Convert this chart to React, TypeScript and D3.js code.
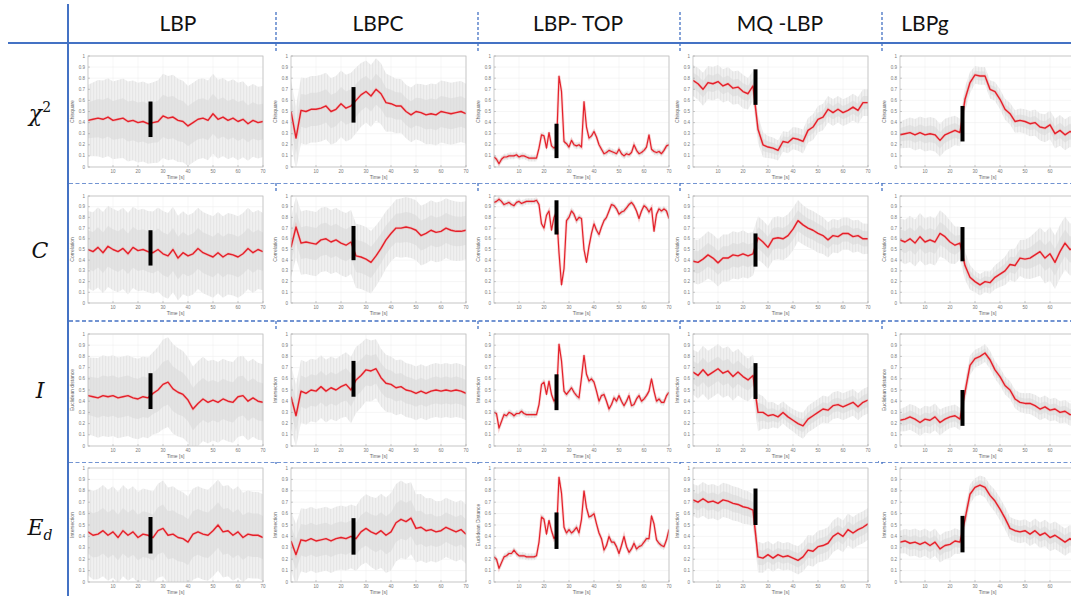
import { useEffect, useRef } from 'react'
import * as d3 from 'd3'

// sample times (s)
const time1 = [0, 1, 2, 3, 4, 5, 6, 7, 8, 9, 10, 11, 12, 13, 14, 15, 16, 17, 18, 19, 20, 21, 22, 23, 24, 25, 26, 27, 28, 29, 30, 31, 32, 33, 34, 35, 36, 37, 38, 39, 40, 41, 42, 43, 44, 45, 46, 47, 48, 49, 50, 51, 52, 53, 54, 55, 56, 57, 58, 59, 60, 61, 62, 63, 64, 65, 66, 67, 68, 69, 70]
const time2 = [0, 2, 4, 6, 8, 10, 12, 14, 16, 18, 20, 22, 24, 26, 28, 30, 32, 34, 36, 38, 40, 42, 44, 46, 48, 50, 52, 54, 56, 58, 60, 62, 64, 66, 68, 70]
const time5 = [0, 5, 10, 15, 20, 25, 30, 35, 40, 45, 50, 55, 60, 65, 70]

const columnLabels = ['LBP', 'LBPC', 'LBP- TOP', 'MQ -LBP', 'LBPg']
const rowSymbols = ['χ', 'C', 'I', 'E']
const rowScripts = ['2', '', '', 'd']
const xTicks = [10, 20, 30, 40, 50, 60, 70]
const yTicks = [0, 0.1, 0.2, 0.3, 0.4, 0.5, 0.6, 0.7, 0.8, 0.9, 1]
const yAxisLabels = [
  ['Chisquare', 'Chisquare', 'Chisquare', 'Chisquare', 'Chisquare'],
  ['Correlation', 'Correlation', 'Correlation', 'Correlation', 'Correlation'],
  ['Euclidean distance', 'Intersection', 'Intersection', 'Intersection', 'Euclidean distance'],
  ['Intersection', 'Intersection', 'Euclidean Distance', 'Intersection', 'Intersection'],
]
const onsetTime = 25

// chi-square row
const chiLbp = [0.42, 0.43, 0.44, 0.43, 0.45, 0.42, 0.43, 0.44, 0.41, 0.42, 0.40, 0.41, 0.39, 0.40, 0.41, 0.46, 0.44, 0.45, 0.42, 0.41, 0.37, 0.40, 0.43, 0.44, 0.42, 0.48, 0.43, 0.45, 0.42, 0.44, 0.41, 0.43, 0.39, 0.42, 0.40, 0.41]
const chiLbpc = [0.50, 0.26, 0.51, 0.50, 0.52, 0.52, 0.53, 0.55, 0.50, 0.52, 0.57, 0.53, 0.55, 0.60, 0.65, 0.68, 0.64, 0.70, 0.66, 0.58, 0.57, 0.55, 0.55, 0.50, 0.47, 0.50, 0.49, 0.47, 0.48, 0.47, 0.50, 0.49, 0.48, 0.49, 0.50, 0.48]
const chiTop = [
  0.09, 0.07, 0.03, 0.07, 0.09, 0.09, 0.10, 0.10, 0.10, 0.11,
  0.09, 0.10, 0.10, 0.09, 0.08, 0.08, 0.08, 0.08, 0.17, 0.29,
  0.28, 0.17, 0.31, 0.19, 0.17, 0.19, 0.82, 0.68, 0.23, 0.21,
  0.18, 0.24, 0.20, 0.19, 0.20, 0.18, 0.59, 0.36, 0.26, 0.28,
  0.32, 0.27, 0.20, 0.16, 0.12, 0.13, 0.15, 0.14, 0.13, 0.12,
  0.16, 0.12, 0.10, 0.12, 0.11, 0.13, 0.20, 0.15, 0.12, 0.13,
  0.15, 0.18, 0.29, 0.16, 0.14, 0.13, 0.14, 0.12, 0.15, 0.19,
  0.20]
const chiMq = [0.78, 0.75, 0.70, 0.76, 0.75, 0.77, 0.73, 0.75, 0.71, 0.72, 0.68, 0.66, 0.73, 0.34, 0.20, 0.18, 0.17, 0.15, 0.23, 0.22, 0.26, 0.25, 0.23, 0.33, 0.36, 0.43, 0.45, 0.52, 0.49, 0.52, 0.49, 0.51, 0.54, 0.51, 0.58, 0.58]
const chiLbpg = [0.29, 0.30, 0.31, 0.29, 0.31, 0.29, 0.30, 0.29, 0.24, 0.29, 0.31, 0.33, 0.31, 0.61, 0.76, 0.83, 0.82, 0.82, 0.70, 0.68, 0.61, 0.52, 0.48, 0.41, 0.42, 0.41, 0.39, 0.40, 0.36, 0.35, 0.38, 0.30, 0.33, 0.29, 0.32, 0.30]

// correlation row
const corLbp = [0.50, 0.48, 0.52, 0.47, 0.53, 0.50, 0.48, 0.51, 0.46, 0.52, 0.49, 0.50, 0.48, 0.47, 0.50, 0.46, 0.44, 0.50, 0.42, 0.47, 0.44, 0.46, 0.51, 0.47, 0.45, 0.43, 0.47, 0.43, 0.46, 0.45, 0.43, 0.46, 0.51, 0.47, 0.50, 0.48]
const corLbpc = [0.52, 0.71, 0.56, 0.57, 0.56, 0.55, 0.59, 0.60, 0.57, 0.59, 0.56, 0.54, 0.57, 0.44, 0.43, 0.41, 0.38, 0.44, 0.51, 0.59, 0.65, 0.70, 0.70, 0.71, 0.70, 0.68, 0.63, 0.65, 0.68, 0.66, 0.67, 0.70, 0.68, 0.67, 0.67, 0.68]
const corTop = [
  0.94, 0.95, 0.97, 0.95, 0.92, 0.93, 0.94, 0.92, 0.91, 0.94,
  0.95, 0.93, 0.94, 0.95, 0.95, 0.95, 0.95, 0.96, 0.92, 0.74,
  0.70, 0.82, 0.86, 0.68, 0.80, 0.85, 0.47, 0.17, 0.32, 0.77,
  0.80, 0.86, 0.83, 0.77, 0.80, 0.79, 0.50, 0.38, 0.53, 0.65,
  0.74, 0.68, 0.64, 0.71, 0.77, 0.80, 0.86, 0.92, 0.91, 0.88,
  0.83, 0.85, 0.86, 0.89, 0.92, 0.94, 0.91, 0.86, 0.79, 0.86,
  0.91, 0.89, 0.85, 0.89, 0.67, 0.83, 0.88, 0.86, 0.88, 0.86,
  0.79]
const corMq = [0.39, 0.38, 0.41, 0.45, 0.42, 0.375, 0.42, 0.42, 0.45, 0.44, 0.46, 0.44, 0.46, 0.61, 0.57, 0.52, 0.60, 0.61, 0.60, 0.63, 0.69, 0.77, 0.73, 0.70, 0.68, 0.65, 0.63, 0.59, 0.63, 0.62, 0.65, 0.65, 0.62, 0.63, 0.60, 0.60]
const corLbpg = [0.59, 0.57, 0.60, 0.56, 0.62, 0.57, 0.59, 0.57, 0.65, 0.62, 0.57, 0.54, 0.56, 0.35, 0.24, 0.20, 0.17, 0.20, 0.19, 0.24, 0.27, 0.30, 0.36, 0.35, 0.42, 0.41, 0.42, 0.45, 0.48, 0.42, 0.46, 0.38, 0.48, 0.56, 0.50, 0.51]

// intersection row
const intLbp = [0.45, 0.44, 0.43, 0.45, 0.44, 0.45, 0.43, 0.44, 0.45, 0.43, 0.42, 0.44, 0.43, 0.47, 0.50, 0.55, 0.57, 0.51, 0.48, 0.46, 0.41, 0.33, 0.38, 0.42, 0.39, 0.41, 0.39, 0.42, 0.40, 0.39, 0.44, 0.45, 0.40, 0.43, 0.40, 0.39]
const intLbpc = [0.44, 0.27, 0.49, 0.47, 0.50, 0.49, 0.53, 0.49, 0.52, 0.50, 0.53, 0.55, 0.50, 0.59, 0.63, 0.68, 0.67, 0.69, 0.61, 0.56, 0.55, 0.52, 0.53, 0.50, 0.49, 0.47, 0.49, 0.47, 0.49, 0.50, 0.49, 0.50, 0.49, 0.50, 0.49, 0.47]
const intTop = [
  0.30, 0.29, 0.16, 0.22, 0.28, 0.27, 0.30, 0.29, 0.27, 0.29,
  0.29, 0.31, 0.29, 0.28, 0.28, 0.28, 0.28, 0.28, 0.37, 0.55,
  0.57, 0.46, 0.58, 0.46, 0.40, 0.43, 0.91, 0.76, 0.49, 0.46,
  0.49, 0.52, 0.48, 0.45, 0.43, 0.61, 0.81, 0.64, 0.58, 0.60,
  0.57, 0.49, 0.40, 0.45, 0.46, 0.40, 0.33, 0.37, 0.43, 0.40,
  0.45, 0.40, 0.36, 0.40, 0.45, 0.36, 0.37, 0.42, 0.45, 0.40,
  0.42, 0.45, 0.49, 0.60, 0.49, 0.40, 0.42, 0.39, 0.39, 0.45,
  0.48]
const intMq = [0.66, 0.63, 0.68, 0.63, 0.66, 0.69, 0.65, 0.67, 0.62, 0.66, 0.62, 0.59, 0.63, 0.30, 0.30, 0.27, 0.28, 0.26, 0.30, 0.26, 0.23, 0.20, 0.18, 0.24, 0.27, 0.30, 0.33, 0.32, 0.36, 0.37, 0.35, 0.37, 0.39, 0.35, 0.39, 0.41]
const intLbpg = [0.23, 0.24, 0.26, 0.24, 0.21, 0.24, 0.23, 0.26, 0.21, 0.24, 0.26, 0.27, 0.24, 0.48, 0.72, 0.78, 0.80, 0.83, 0.77, 0.68, 0.62, 0.54, 0.50, 0.42, 0.39, 0.38, 0.38, 0.36, 0.33, 0.35, 0.32, 0.33, 0.30, 0.31, 0.28, 0.28]

// euclidean distance row
const eucLbp = [0.44, 0.41, 0.42, 0.45, 0.41, 0.44, 0.39, 0.45, 0.41, 0.44, 0.39, 0.42, 0.41, 0.39, 0.45, 0.47, 0.41, 0.42, 0.39, 0.38, 0.35, 0.42, 0.44, 0.42, 0.41, 0.45, 0.50, 0.44, 0.45, 0.41, 0.44, 0.39, 0.42, 0.41, 0.41, 0.39]
const eucLbpc = [0.36, 0.24, 0.37, 0.36, 0.38, 0.36, 0.37, 0.38, 0.36, 0.38, 0.39, 0.38, 0.40, 0.38, 0.44, 0.47, 0.44, 0.42, 0.45, 0.41, 0.44, 0.52, 0.55, 0.53, 0.56, 0.47, 0.48, 0.45, 0.46, 0.44, 0.45, 0.48, 0.46, 0.44, 0.46, 0.42]
const eucTop = [
  0.22, 0.20, 0.12, 0.17, 0.22, 0.23, 0.25, 0.25, 0.28, 0.25,
  0.23, 0.23, 0.23, 0.22, 0.22, 0.22, 0.22, 0.23, 0.35, 0.57,
  0.55, 0.42, 0.54, 0.45, 0.38, 0.42, 0.92, 0.78, 0.48, 0.43,
  0.46, 0.43, 0.45, 0.48, 0.43, 0.55, 0.80, 0.65, 0.57, 0.58,
  0.60, 0.51, 0.43, 0.38, 0.28, 0.32, 0.40, 0.35, 0.35, 0.31,
  0.25, 0.32, 0.40, 0.31, 0.26, 0.29, 0.34, 0.29, 0.31, 0.32,
  0.35, 0.38, 0.38, 0.58, 0.51, 0.37, 0.34, 0.32, 0.31, 0.37,
  0.46]
const eucMq = [0.72, 0.70, 0.73, 0.70, 0.71, 0.69, 0.72, 0.71, 0.69, 0.68, 0.66, 0.65, 0.63, 0.22, 0.21, 0.24, 0.21, 0.24, 0.22, 0.23, 0.21, 0.19, 0.22, 0.28, 0.27, 0.31, 0.32, 0.34, 0.40, 0.43, 0.40, 0.46, 0.43, 0.46, 0.48, 0.51]
const eucLbpg = [0.35, 0.36, 0.34, 0.35, 0.33, 0.35, 0.32, 0.35, 0.29, 0.32, 0.33, 0.36, 0.35, 0.55, 0.77, 0.83, 0.85, 0.83, 0.76, 0.71, 0.64, 0.56, 0.47, 0.45, 0.44, 0.45, 0.42, 0.45, 0.41, 0.43, 0.39, 0.41, 0.38, 0.35, 0.38, 0.35]

// half width of the grey raw-signal cloud, every 5 s
const chiLbpSpread = [0.32, 0.35, 0.35, 0.36, 0.36, 0.36, 0.38, 0.38, 0.36, 0.36, 0.36, 0.35, 0.35, 0.33, 0.32]
const chiLbpcSpread = [0.28, 0.30, 0.30, 0.30, 0.30, 0.30, 0.28, 0.28, 0.25, 0.24, 0.25, 0.27, 0.28, 0.28, 0.27]
const chiTopSpread = [0.03, 0.03, 0.03, 0.03, 0.03, 0.03, 0.03, 0.03, 0.03, 0.03, 0.03, 0.03, 0.03, 0.03, 0.03]
const chiMqSpread = [0.14, 0.15, 0.15, 0.15, 0.15, 0.13, 0.10, 0.09, 0.10, 0.11, 0.12, 0.12, 0.12, 0.12, 0.12]
const chiLbpgSpread = [0.12, 0.14, 0.15, 0.15, 0.14, 0.12, 0.08, 0.08, 0.09, 0.10, 0.11, 0.12, 0.13, 0.14, 0.14]
const corLbpSpread = [0.36, 0.38, 0.38, 0.38, 0.38, 0.38, 0.40, 0.40, 0.38, 0.38, 0.38, 0.38, 0.38, 0.38, 0.36]
const corLbpcSpread = [0.28, 0.30, 0.30, 0.30, 0.30, 0.30, 0.30, 0.28, 0.26, 0.28, 0.28, 0.28, 0.28, 0.28, 0.27]
const corTopSpread = [0.03, 0.03, 0.03, 0.03, 0.03, 0.03, 0.04, 0.03, 0.03, 0.03, 0.03, 0.03, 0.03, 0.03, 0.03]
const corMqSpread = [0.20, 0.22, 0.22, 0.22, 0.22, 0.20, 0.20, 0.20, 0.20, 0.18, 0.18, 0.16, 0.15, 0.15, 0.14]
const corLbpgSpread = [0.20, 0.22, 0.22, 0.22, 0.20, 0.14, 0.10, 0.10, 0.12, 0.15, 0.18, 0.22, 0.25, 0.25, 0.24]
const intLbpSpread = [0.34, 0.36, 0.36, 0.36, 0.36, 0.36, 0.40, 0.40, 0.38, 0.38, 0.36, 0.36, 0.36, 0.35, 0.34]
const intLbpcSpread = [0.28, 0.28, 0.28, 0.28, 0.28, 0.30, 0.28, 0.26, 0.25, 0.24, 0.24, 0.24, 0.24, 0.24, 0.24]
const intTopSpread = [0.03, 0.03, 0.03, 0.03, 0.03, 0.03, 0.03, 0.03, 0.03, 0.03, 0.03, 0.03, 0.03, 0.03, 0.03]
const intMqSpread = [0.20, 0.22, 0.22, 0.22, 0.20, 0.18, 0.12, 0.10, 0.10, 0.12, 0.12, 0.12, 0.12, 0.12, 0.12]
const intLbpgSpread = [0.10, 0.12, 0.12, 0.12, 0.10, 0.10, 0.08, 0.08, 0.08, 0.08, 0.09, 0.10, 0.10, 0.10, 0.10]
const eucLbpSpread = [0.38, 0.40, 0.40, 0.40, 0.40, 0.40, 0.42, 0.42, 0.40, 0.40, 0.40, 0.40, 0.40, 0.38, 0.38]
const eucLbpcSpread = [0.26, 0.28, 0.28, 0.28, 0.28, 0.28, 0.30, 0.32, 0.34, 0.34, 0.30, 0.28, 0.26, 0.26, 0.26]
const eucTopSpread = [0.03, 0.03, 0.03, 0.03, 0.03, 0.03, 0.03, 0.03, 0.03, 0.03, 0.03, 0.03, 0.03, 0.03, 0.03]
const eucMqSpread = [0.14, 0.15, 0.15, 0.15, 0.15, 0.14, 0.12, 0.12, 0.12, 0.13, 0.14, 0.14, 0.14, 0.14, 0.14]
const eucLbpgSpread = [0.10, 0.12, 0.12, 0.12, 0.12, 0.10, 0.08, 0.09, 0.10, 0.10, 0.10, 0.11, 0.12, 0.12, 0.12]

// black onset markers [low, high]
const chiBars = [[0.27, 0.59], [0.40, 0.72], [0.08, 0.39], [0.56, 0.88], [0.23, 0.55]]
const corBars = [[0.35, 0.68], [0.40, 0.72], [0.64, 0.96], [0.34, 0.65], [0.39, 0.71]]
const intBars = [[0.33, 0.65], [0.44, 0.76], [0.32, 0.64], [0.42, 0.74], [0.18, 0.50]]
const eucBars = [[0.25, 0.57], [0.24, 0.56], [0.29, 0.61], [0.50, 0.82], [0.26, 0.58]]

const rowValues = [
  [chiLbp, chiLbpc, chiTop, chiMq, chiLbpg],
  [corLbp, corLbpc, corTop, corMq, corLbpg],
  [intLbp, intLbpc, intTop, intMq, intLbpg],
  [eucLbp, eucLbpc, eucTop, eucMq, eucLbpg],
]
const rowSpreads = [
  [chiLbpSpread, chiLbpcSpread, chiTopSpread, chiMqSpread, chiLbpgSpread],
  [corLbpSpread, corLbpcSpread, corTopSpread, corMqSpread, corLbpgSpread],
  [intLbpSpread, intLbpcSpread, intTopSpread, intMqSpread, intLbpgSpread],
  [eucLbpSpread, eucLbpcSpread, eucTopSpread, eucMqSpread, eucLbpgSpread],
]
const rowBars = [chiBars, corBars, intBars, eucBars]

const W = 1071, H = 596
const blue = '#4472c4'
const frameLeft = [88, 291, 494, 693, 900]
const frameTop = [56, 196, 334, 468]
const frameHeight = [111, 107, 112, 114]
const frameWidth = 175
const headerX = [178, 378, 578, 780, 925]
const rowLabelY = [113, 250, 390, 527]
const rowBounds = [[43, 183], [183, 321], [321, 462], [462, 596]]
const dividerX = [276, 478, 680, 882]

export default function App() {
    const ref = useRef(null)

    useEffect(() => {
        const svg = d3.select(ref.current)
        svg.selectAll('*').remove()

        svg.append('rect').attr('width', W).attr('height', H).attr('fill', '#fff')

        const defs = svg.append('defs')
        // streaky texture for the raw-signal cloud
        const pat = defs.append('pattern')
            .attr('id', 'noise')
            .attr('patternUnits', 'userSpaceOnUse')
            .attr('width', 3)
            .attr('height', 40)
        pat.append('rect').attr('width', 3).attr('height', 40).attr('fill', '#f2f2f2')
        pat.append('line').attr('x1', 0.5).attr('x2', 0.5).attr('y1', 0).attr('y2', 40)
            .attr('stroke', '#dadada').attr('stroke-width', 0.5)
        pat.append('line').attr('x1', 1.9).attr('x2', 1.9).attr('y1', 0).attr('y2', 40)
            .attr('stroke', '#e3e3e3').attr('stroke-width', 0.4)

        // grid structure lines
        const lines = svg.append('g')
        lines.append('line').attr('x1', 68).attr('x2', 68).attr('y1', 4).attr('y2', H)
            .attr('stroke', blue).attr('stroke-width', 2)
        lines.append('line').attr('x1', 8).attr('x2', W).attr('y1', 43).attr('y2', 43)
            .attr('stroke', blue).attr('stroke-width', 2)

        rowBounds.slice(1).forEach(([top]) => {
            lines.append('line').attr('x1', 69).attr('x2', W).attr('y1', top).attr('y2', top)
                .attr('stroke', blue).attr('stroke-width', 1.3).attr('stroke-dasharray', '4 2.5')
        })

        dividerX.forEach((x) => {
            const segs = [[12, 43]]
            rowBounds.forEach(([a, b]) => {
                segs.push([a, a + 28])
                segs.push([b - 30, b])
            })
            segs.forEach(([a, b]) => {
                lines.append('line').attr('x1', x).attr('x2', x).attr('y1', a).attr('y2', b)
                    .attr('stroke', blue).attr('stroke-width', 1.3).attr('stroke-dasharray', '3 2')
            })
        })

        // header labels
        columnLabels.forEach((label, i) => {
            svg.append('text')
                .attr('x', headerX[i])
                .attr('y', 31)
                .attr('text-anchor', 'middle')
                .style('font-family', 'Lato, "Open Sans", sans-serif')
                .style('font-size', '21px')
                .attr('fill', '#111')
                .text(label)
        })

        // row labels
        rowSymbols.forEach((sym, i) => {
            const t = svg.append('text')
                .attr('x', 40)
                .attr('y', rowLabelY[i] + 8)
                .attr('text-anchor', 'middle')
                .style('font-family', '"DejaVu Serif", "Liberation Serif", serif')
                .style('font-style', 'italic')
                .style('font-size', '22px')
                .attr('fill', '#111')
            t.append('tspan').text(sym)
            if (rowScripts[i]) {
                t.append('tspan')
                    .attr('dy', i === 0 ? -9 : 5)
                    .style('font-size', '14px')
                    .style('font-style', i === 0 ? 'normal' : 'italic')
                    .text(rowScripts[i])
            }
        })

        // panels
        rowValues.forEach((cols, r) => {
            cols.forEach((values, c) => {
                const time = c === 2 ? time1 : time2
                const x0 = frameLeft[c], y0 = frameTop[r], w = frameWidth, h = frameHeight[r]
                const xScale = d3.scaleLinear().domain([0, 70]).range([x0, x0 + w])
                const yScale = d3.scaleLinear().domain([0, 1]).range([y0 + h, y0])
                const spread = d3.scaleLinear().domain(time5).range(rowSpreads[r][c])
                const pts = time.map((t, k) => ({ t, v: values[k] }))
                const visibleX = xTicks.filter((d) => xScale(d) < W - 4)

                const g = svg.append('g')
                g.append('rect').attr('x', x0 - 19).attr('y', y0 - 4).attr('width', w + 29).attr('height', h + 20).attr('fill', '#fff')

                // grid
                g.selectAll('.gx').data(xTicks).join('line')
                    .attr('x1', (d) => xScale(d)).attr('x2', (d) => xScale(d))
                    .attr('y1', y0).attr('y2', y0 + h)
                    .attr('stroke', '#ededed').attr('stroke-width', 0.5)
                g.selectAll('.gy').data(yTicks).join('line')
                    .attr('x1', x0).attr('x2', x0 + w)
                    .attr('y1', (d) => yScale(d)).attr('y2', (d) => yScale(d))
                    .attr('stroke', '#ededed').attr('stroke-width', 0.5)

                const clipId = `clip-${r}-${c}`
                defs.append('clipPath').attr('id', clipId).append('rect')
                    .attr('x', x0).attr('y', y0).attr('width', w).attr('height', h)
                const plot = g.append('g').attr('clip-path', `url(#${clipId})`)

                const outer = d3.area()
                    .x((d) => xScale(d.t))
                    .y0((d) => yScale(d.v - spread(d.t)))
                    .y1((d) => yScale(d.v + spread(d.t)))
                const inner = d3.area()
                    .x((d) => xScale(d.t))
                    .y0((d) => yScale(d.v - spread(d.t) * 0.5))
                    .y1((d) => yScale(d.v + spread(d.t) * 0.5))
                plot.append('path').attr('d', outer(pts)).attr('fill', 'url(#noise)')
                plot.append('path').attr('d', inner(pts)).attr('fill', '#d8d8d8').attr('opacity', 0.55)

                const line = d3.line().x((d) => xScale(d.t)).y((d) => yScale(d.v))
                plot.append('path').attr('d', line(pts))
                    .attr('fill', 'none').attr('stroke', '#f4a0a0').attr('stroke-width', 2.8).attr('opacity', 0.45)
                plot.append('path').attr('d', line(pts))
                    .attr('fill', 'none').attr('stroke', '#e4202a').attr('stroke-width', c === 2 ? 1.2 : 1.4)
                    .attr('stroke-linejoin', 'round')

                // frame and ticks
                g.append('rect').attr('x', x0).attr('y', y0).attr('width', w).attr('height', h)
                    .attr('fill', 'none').attr('stroke', '#bdbdbd').attr('stroke-width', 0.8)
                g.selectAll('.tx').data(xTicks).join('line')
                    .attr('x1', (d) => xScale(d)).attr('x2', (d) => xScale(d))
                    .attr('y1', y0 + h).attr('y2', y0 + h - 2)
                    .attr('stroke', '#9a9a9a').attr('stroke-width', 0.5)
                g.selectAll('.ty').data(yTicks).join('line')
                    .attr('x1', x0).attr('x2', x0 + 2)
                    .attr('y1', (d) => yScale(d)).attr('y2', (d) => yScale(d))
                    .attr('stroke', '#9a9a9a').attr('stroke-width', 0.5)

                const family = '"Liberation Sans", Arial, sans-serif'
                g.selectAll('.lx').data(visibleX).join('text')
                    .attr('x', (d) => xScale(d)).attr('y', y0 + h + 6)
                    .attr('text-anchor', 'middle')
                    .style('font-family', family).style('font-size', '4.5px').attr('fill', '#777')
                    .text((d) => d)
                g.selectAll('.ly').data(yTicks).join('text')
                    .attr('x', x0 - 3).attr('y', (d) => yScale(d) + 1.5)
                    .attr('text-anchor', 'end')
                    .style('font-family', family).style('font-size', '4.5px').attr('fill', '#777')
                    .text((d) => d)
                g.append('text')
                    .attr('x', Math.min(x0 + w / 2, W - 14)).attr('y', y0 + h + 12)
                    .attr('text-anchor', 'middle')
                    .style('font-family', family).style('font-size', '5px').attr('fill', '#666')
                    .text('Time [s]')
                g.append('text')
                    .attr('transform', `translate(${x0 - 14}, ${y0 + h / 2}) rotate(-90)`)
                    .attr('text-anchor', 'middle')
                    .style('font-family', family).style('font-size', '5px').attr('fill', '#666')
                    .text(yAxisLabels[r][c])

                // onset marker
                const [lo, hi] = rowBars[r][c]
                g.append('rect')
                    .attr('x', xScale(onsetTime) - 2)
                    .attr('y', yScale(hi))
                    .attr('width', 4)
                    .attr('height', yScale(lo) - yScale(hi))
                    .attr('fill', '#000')
            })
        })
    }, [])

    return (
        <svg
            ref={ref}
            width={W}
            height={H}
            style={{ position: 'absolute', left: 0, top: 0, display: 'block' }}
        />
    )
}
